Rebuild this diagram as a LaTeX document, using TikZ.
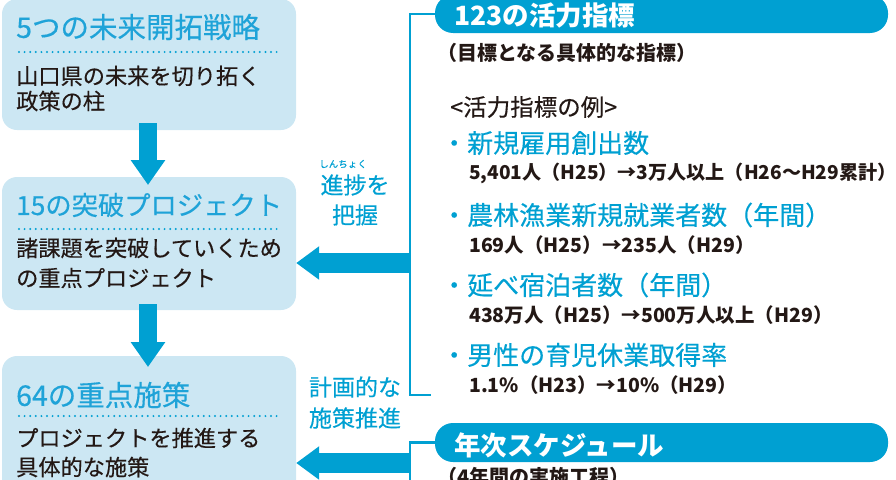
\documentclass[tikz,border=0pt]{standalone}
\usepackage{fontspec}
\setmainfont{Noto Sans CJK JP}
\newfontfamily\medfont{Noto Sans CJK JP}[FakeBold=0.35]
\usetikzlibrary{arrows.meta}
\definecolor{cblue}{HTML}{00A0D2}
\definecolor{ctitle}{HTML}{1FA3D8}
\definecolor{cbox}{HTML}{CCE7F3}
\definecolor{ctext}{HTML}{231815}
\tikzset{
  bigbox/.style={draw=none,fill=cbox,rounded corners=15pt,minimum width=294pt,inner sep=0pt},
  pill/.style={draw=none,fill=cblue,rounded corners=18pt,minimum width=453pt,inner sep=0pt},
  lbl/.style={anchor=west,inner sep=0pt},
  ttl/.style={lbl,text=ctitle,font=\medfont\fontsize{28.5}{31}\selectfont},
  body/.style={lbl,text=ctext,font=\medfont\fontsize{22.2}{25}\selectfont},
  pilltxt/.style={lbl,text=white,font=\bfseries\fontsize{26.5}{29}\selectfont},
  sub/.style={lbl,text=ctext,font=\bfseries\fontsize{20}{23}\selectfont},
  ex/.style={lbl,text=ctext,font=\medfont\fontsize{23.5}{26}\selectfont},
  item/.style={lbl,text=cblue,font=\medfont\fontsize{26}{29}\selectfont},
  val/.style={lbl,text=ctext,font=\bfseries\fontsize{19.5}{22}\selectfont},
  side/.style={inner sep=0pt,text=cblue,font=\medfont\fontsize{23}{26}\selectfont},
  rubytxt/.style={inner sep=0pt,text=cblue,font=\medfont\fontsize{9.5}{11}\selectfont},
  dotline/.style={draw=cblue,line width=2.2pt,line cap=round,dash pattern=on 0pt off 5.6pt},
  conn/.style={draw=cblue,line width=2.4pt},
  harrow/.style={draw=cblue,line width=20pt,-{Triangle[length=23pt,width=32pt]}},
  varrow/.style={draw=cblue,line width=18pt,-{Triangle[length=25pt,width=33pt]}},
}
\begin{document}
\begin{tikzpicture}[x=1pt,y=-1pt]
\useasboundingbox (0,0) rectangle (896,479);
\clip (0,0) rectangle (896,479);
% left boxes
\node[bigbox,minimum height=131pt] (b1) at (149,64.5) {};
\node[bigbox,minimum height=133pt] (b2) at (149,243.5) {};
\node[bigbox,minimum height=170pt] (b3) at (149,441) {};
% box 1
\node[ttl] (t1) at (16,27) {5つの未来開拓戦略};
\coordinate (d1a) at (19,52); \coordinate (d1b) at (277,52);
\draw[dotline] (d1a) -- (d1b);
\node[body] (l1a) at (16,76) {山口県の未来を切り拓く};
\node[body] (l1b) at (16,101) {政策の柱};
% box 2
\node[ttl,font=\medfont\fontsize{26.3}{29}\selectfont] (t2) at (16,205) {15の突破プロジェクト};
\coordinate (d2a) at (19,229); \coordinate (d2b) at (277,229);
\draw[dotline] (d2a) -- (d2b);
\node[body] (l2a) at (16,248) {諸課題を突破していくため};
\node[body] (l2b) at (16,278) {の重点プロジェクト};
% box 3
\node[ttl] (t3) at (16,395) {64の重点施策};
\coordinate (d3a) at (19,416); \coordinate (d3b) at (277,416);
\draw[dotline] (d3a) -- (d3b);
\node[body] (l3a) at (16,438) {プロジェクトを推進する};
\node[body] (l3b) at (16,467) {具体的な施策};
% down arrows
\coordinate (v1s) at (148,123); \coordinate (v1e) at (148,185);
\draw[varrow] (v1s) -- (v1e);
\coordinate (v2s) at (148,304); \coordinate (v2e) at (148,367);
\draw[varrow] (v2s) -- (v2e);
% pills
\node[pill,minimum height=38pt] (p1) at (661.5,14) {};
\node[pilltxt] (p1t) at (454,15) {123の活力指標};
\node[pill,minimum height=39pt] (p2) at (661.5,442.5) {};
\node[pilltxt] (p2t) at (454,445) {年次スケジュール};
% brackets
\coordinate (c1) at (410,395); \coordinate (c1e) at (431,395);
\draw[conn] (p1.west) -| (c1) -- (c1e);
\coordinate (c2) at (410,500);
\draw[conn] (p2.west) -| (c2);
% horizontal arrows
\coordinate (h1) at (410,263);
\draw[harrow] (h1) -- (h1 -| b2.east);
\coordinate (h2) at (410,463);
\draw[harrow] (h2) -- (h2 -| b3.east);
% side labels
\node[side] (s1) at (355,185) {進捗を};
\node[rubytxt] (s1r) at (343,164) {しんちょく};
\node[side] (s2) at (355,215) {把握};
\node[side] (s3) at (355,387) {計画的な};
\node[side] (s4) at (355,418) {施策推進};
% right texts
\node[sub] (r1) at (437,53) {（目標となる具体的な指標）};
\node[ex] (r2) at (450,107) {<活力指標の例>};
\node[item] (i1) at (441,143) {・新規雇用創出数};
\node[val,font=\bfseries\fontsize{19.1}{22}\selectfont] (v1) at (469,173) {5,401人（H25）→3万人以上（H26～H29累計）};
\node[item] (i2) at (441,215) {・農林漁業新規就業者数（年間）};
\node[val] (v2) at (469,245) {169人（H25）→235人（H29）};
\node[item] (i3) at (441,285) {・延べ宿泊者数（年間）};
\node[val] (v3) at (469,315) {438万人（H25）→500万人以上（H29）};
\node[item] (i4) at (441,355) {・男性の育児休業取得率};
\node[val] (v4) at (469,385) {1.1\%（H23）→10\%（H29）};
\node[sub] (r3) at (437,477) {（4年間の実施工程）};
\end{tikzpicture}
\end{document}
